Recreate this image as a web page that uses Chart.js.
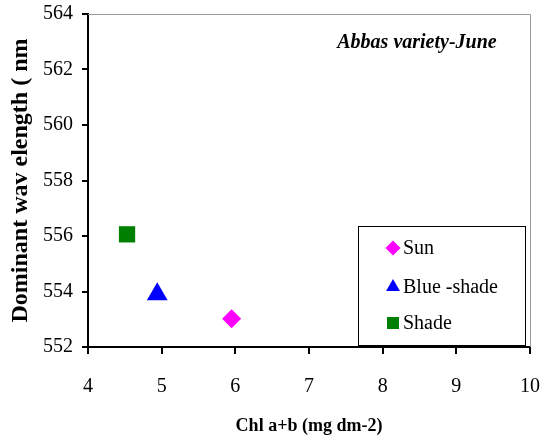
<!DOCTYPE html>
<html><head><meta charset="utf-8">
<script src="https://cdn.jsdelivr.net/npm/chart.js@4"></script>
<style>html,body{margin:0;padding:0;background:#fff}</style>
</head><body>
<canvas id="c" width="543" height="441"></canvas>
<script>
const seriesNames = ['Sun', 'Blue -shade', 'Shade'];
const sunX = [5.95],  sunY = [553.02];
const blueX = [4.94], blueY = [553.9];
const shadeX = [4.53], shadeY = [556.06];
const xTicks = [4, 5, 6, 7, 8, 9, 10];
const yTicks = [552, 554, 556, 558, 560, 562, 564];
const chartTitle = 'Abbas variety-June';
const xTitle = 'Chl a+b (mg dm-2)';
const yTitle = 'Dominant wav elength ( nm';

const pts = (xs, ys) => xs.map((x, i) => ({x: x, y: ys[i]}));

const styles = [
  {pointStyle: 'rectRot', color: '#FF00FF', radius: 9.5, legendRadius: 7.5},
  {pointStyle: 'triangle', color: '#0000FF', radius: 12, legendRadius: 8},
  {pointStyle: 'rect', color: '#008000', radius: 11.5, legendRadius: 8.5}
];
const dataSets = [pts(sunX, sunY), pts(blueX, blueY), pts(shadeX, shadeY)];

const zeroPad = s => { s.paddingLeft = 0; s.paddingRight = 0; s.paddingTop = 0; s.paddingBottom = 0; };

const deco = {
  id: 'deco',
  afterDraw(chart) {
    const {ctx, chartArea: a} = chart;
    ctx.save();
    ctx.strokeStyle = '#9a9a9a'; ctx.lineWidth = 1;
    ctx.beginPath();
    ctx.moveTo(a.left, a.top + 0.5);
    ctx.lineTo(a.right + 0.5, a.top + 0.5);
    ctx.lineTo(a.right + 0.5, a.bottom);
    ctx.stroke();
    ctx.fillStyle = '#000';
    ctx.font = "italic bold 20px 'Liberation Serif'";
    ctx.textAlign = 'center'; ctx.textBaseline = 'middle';
    ctx.fillText(chartTitle, a.right - 113, a.top + 29);
    const bx = a.right - 172, by = a.top + 212, bw = 167, bh = 119;
    ctx.fillStyle = '#fff'; ctx.fillRect(bx, by, bw, bh);
    ctx.strokeStyle = '#000'; ctx.lineWidth = 1;
    ctx.strokeRect(bx + 0.5, by + 0.5, bw, bh);
    const rows = [22, 61, 97];
    ctx.font = "20px 'Liberation Serif'";
    ctx.textAlign = 'left';
    seriesNames.forEach((name, i) => {
      const s = styles[i];
      ctx.fillStyle = s.color;
      Chart.helpers.drawPoint(ctx, {pointStyle: s.pointStyle, radius: s.legendRadius, rotation: 0, borderWidth: 0}, bx + 35, by + rows[i]);
      ctx.fillStyle = '#000';
      ctx.fillText(name, bx + 45, by + rows[i] + 1);
    });
    ctx.restore();
  }
};

new Chart(document.getElementById('c'), {
  type: 'scatter',
  data: {
    datasets: seriesNames.map((name, i) => ({
      label: name,
      data: dataSets[i],
      pointStyle: styles[i].pointStyle,
      pointRadius: styles[i].radius,
      pointHoverRadius: styles[i].radius,
      backgroundColor: styles[i].color,
      borderColor: styles[i].color,
      borderWidth: 0,
      showLine: false
    }))
  },
  options: {
    responsive: false,
    animation: false,
    events: [],
    layout: {padding: {top: 14, right: 13, left: 0, bottom: 0}},
    plugins: {legend: {display: false}, tooltip: {enabled: false}, title: {display: false}},
    scales: {
      x: {
        type: 'linear', min: 4, max: 10,
        afterBuildTicks: s => { s.ticks = xTicks.map(v => ({value: v})); },
        afterFit: s => { s.height = 94; zeroPad(s); },
        grid: {drawOnChartArea: false, drawTicks: true, tickLength: 7, color: '#000', lineWidth: 2},
        border: {color: '#000', width: 2},
        ticks: {color: '#000', font: {family: 'Liberation Serif', size: 20}, padding: 21, maxRotation: 0, autoSkip: false},
        title: {display: true, text: xTitle, color: '#000', font: {family: 'Liberation Serif', size: 18, weight: 'bold'}, padding: {top: 0, bottom: 4}}
      },
      y: {
        type: 'linear', min: 552, max: 564,
        afterBuildTicks: s => { s.ticks = yTicks.map(v => ({value: v})); },
        afterFit: s => { s.width = 88; zeroPad(s); },
        grid: {drawOnChartArea: false, drawTicks: true, tickLength: 6, color: '#000', lineWidth: 2},
        border: {color: '#000', width: 2},
        ticks: {color: '#000', font: {family: 'Liberation Serif', size: 20}, padding: 9, autoSkip: false},
        title: {display: true, text: yTitle, color: '#000', font: {family: 'Liberation Serif', size: 24, weight: 'bold'}, padding: {top: 6, bottom: 0}}
      }
    }
  },
  plugins: [deco]
});
</script>
</body></html>
